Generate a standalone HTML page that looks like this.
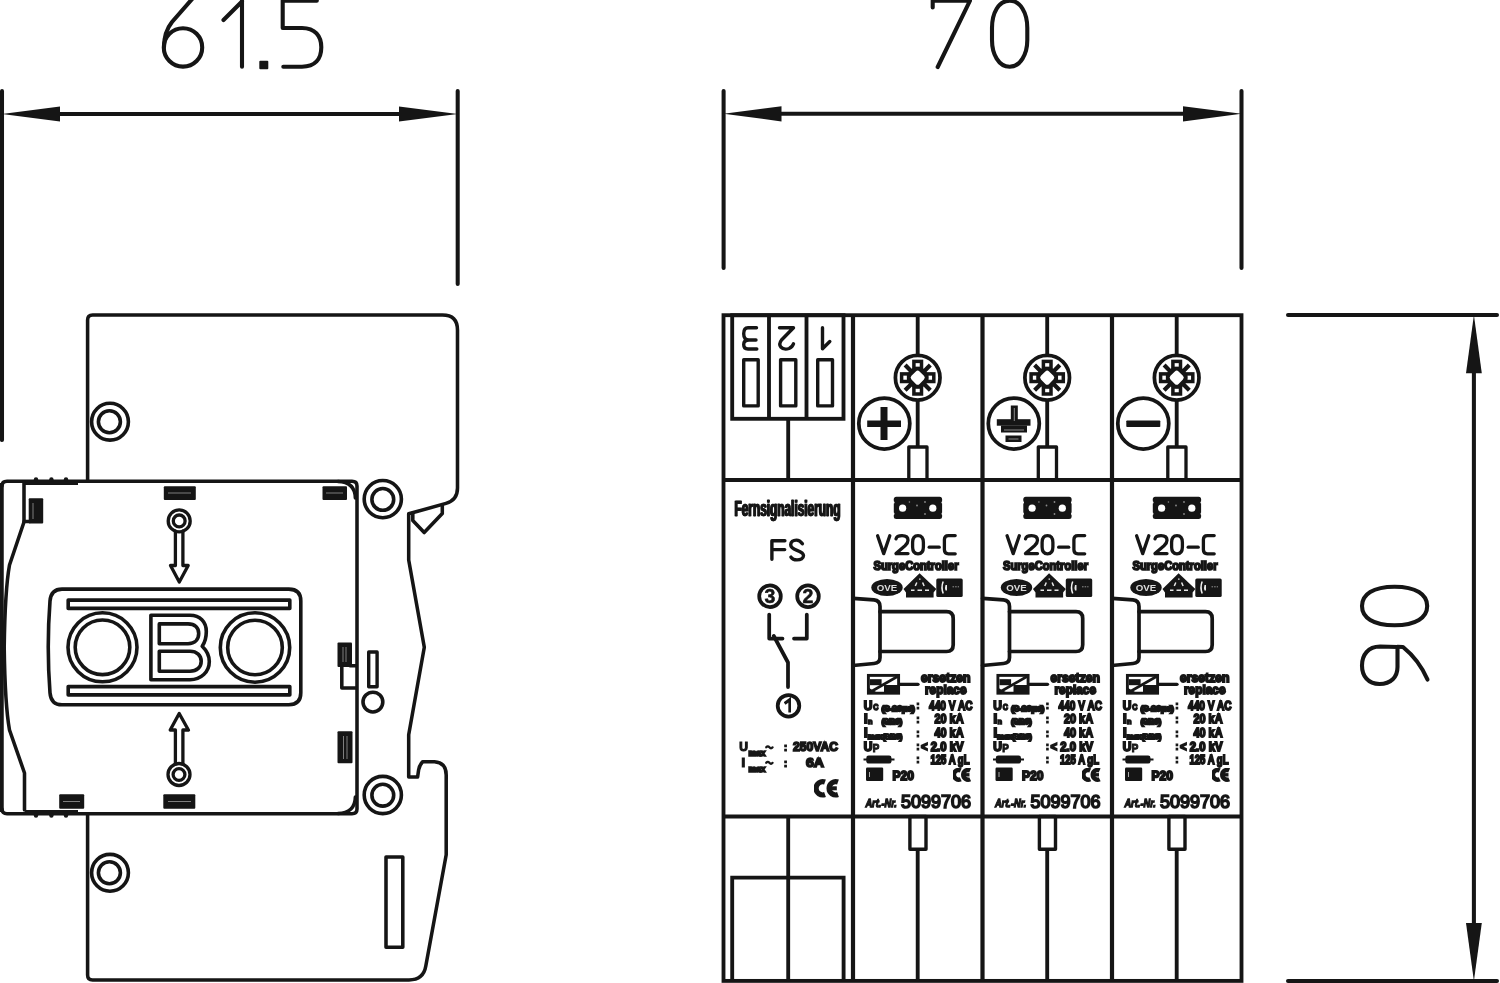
<!DOCTYPE html>
<html>
<head>
<meta charset="utf-8">
<title>V20-C dimension drawing</title>
<style>
html,body{margin:0;padding:0;background:#fff;}
body{width:1500px;height:983px;overflow:hidden;font-family:"Liberation Sans",sans-serif;}
svg{display:block;position:absolute;left:0;top:0;}
.l{fill:none;stroke:#151515;stroke-width:3.55;stroke-linecap:round;stroke-linejoin:round;}
.lb{fill:none;stroke:#151515;stroke-width:3.55;stroke-linecap:butt;stroke-linejoin:miter;}
.t{fill:none;stroke:#151515;stroke-width:3.4;stroke-linecap:round;stroke-linejoin:round;}
.d{fill:none;stroke:#151515;stroke-width:4.1;stroke-linecap:round;stroke-linejoin:round;}
#dims .l,#dims .lb{stroke-width:4.05;}
#frontview .lb{stroke-width:3.85;}
#frontview .l{stroke-width:3.75;}
.k{fill:#151515;stroke:none;}
.w{fill:#fff;stroke:#151515;stroke-width:3.3;stroke-linejoin:round;}
text{font-family:"Liberation Sans",sans-serif;fill:#151515;}
.b{font-weight:bold;stroke:#151515;stroke-width:0.5;}
</style>
</head>
<body>
<svg width="1500" height="983" viewBox="0 0 1500 983">
<defs><filter id="bl" x="-5%" y="-20%" width="110%" height="140%"><feGaussianBlur stdDeviation="0.35"/></filter><filter id="bl2" x="-5%" y="-20%" width="110%" height="140%"><feGaussianBlur stdDeviation="0.5"/></filter></defs>
<rect x="0" y="0" width="1500" height="983" fill="#ffffff"/>

<!-- ================= DIMENSIONS ================= -->
<g id="dims">
  <!-- 61.5 -->
  <path class="l" d="M2,91 L2,440"/>
  <path class="l" d="M457.7,91 L457.7,284"/>
  <path class="lb" d="M30,114 L430,114"/>
  <path class="k" d="M2,114 L60,106.5 L60,121.5 Z"/>
  <path class="k" d="M457.7,114 L399,106.5 L399,121.5 Z"/>
  <!-- 70 -->
  <path class="l" d="M723.6,91 L723.6,268"/>
  <path class="l" d="M1241.5,91 L1241.5,268"/>
  <path class="lb" d="M750,113.8 L1215,113.8"/>
  <path class="k" d="M723.6,113.8 L781.5,106.2 L781.5,121.4 Z"/>
  <path class="k" d="M1241.5,113.8 L1183,106.2 L1183,121.4 Z"/>
  <!-- 90 -->
  <path class="l" d="M1288,315 L1497,315"/>
  <path class="l" d="M1288,980.9 L1497,980.9"/>
  <path class="lb" d="M1473.9,340 L1473.9,955"/>
  <path class="k" d="M1473.9,315 L1466,373.3 L1481.8,373.3 Z"/>
  <path class="k" d="M1473.9,980.9 L1466,923 L1481.8,923 Z"/>

  <!-- digits 61.5 -->
  <g class="d">
    <circle cx="183" cy="47.4" r="19.2"/>
    <path d="M193,-2 L172,22 Q164,32 164,47"/>
    <path d="M223.5,20 L242,1.5 M242,-2 L242,66.7"/>
    <path d="M316.8,0.7 L282.7,0.7 L282.7,28 L302,28 C315,28 321.3,36 321.3,47.3 C321.3,59 315,66.7 302,66.7 L283.3,66.7"/>
  </g>
  <rect class="k" x="259.3" y="60.7" width="9" height="8.5" rx="1"/>
  <!-- digits 70 -->
  <g class="d">
    <path d="M932.7,7.5 L932.7,0.7 L970,0.7 L937.7,67"/>
    <path d="M1009.7,0.7 C1020.5,0.7 1027.3,13 1027.3,28 L1027.3,40 C1027.3,54 1020.5,66.7 1009.7,66.7 C998.5,66.7 992,54 992,40 L992,28 C992,13 998.5,0.7 1009.7,0.7 Z"/>
  </g>
  <!-- digits 90 (rotated) -->
  <g class="d">
    <path d="M1394.6,586.7 C1416,586.7 1427.2,594.5 1427.2,606 C1427.2,617.5 1416,625.2 1394.6,625.2 C1373,625.2 1362,617.5 1362,606 C1362,594.5 1373,586.7 1394.6,586.7 Z"/>
    <path d="M1397.5,647 L1380,646.5 C1368,646.5 1362,655 1362,665.5 C1362,676 1368,684 1379.5,684 C1391,684 1397.5,677 1397.5,667 Z"/>
    <path d="M1397.5,646.8 L1403,647 Q1419,660 1427.5,679.5"/>
  </g>
</g>

<!-- ================= LEFT VIEW ================= -->
<g id="leftview">
  <!-- main body outline -->
  <path class="l" d="M87.6,481 L87.6,320 Q87.6,314.9 92.6,314.9 L442.5,314.9 Q457.5,314.9 457.5,330 L457.5,488 Q457.5,500 446,503.4 L408.7,513.8 L408.7,560 L424.3,647.2 L408.7,734.8 L408.7,777 L417.6,777 L418.6,770 Q419.5,765 422.6,761.7 L434.5,761.7 Q446.2,762.5 446.2,775 L446.2,854.8 L425.8,966 Q423.5,979.9 409,979.9 L92.6,979.9 Q87.6,979.9 87.6,974.9 L87.6,814"/>
  <!-- latch -->
  <path class="l" d="M442.3,505 L442.3,513.5 L424.2,532.5 L412.8,520.5 L412.8,513"/>
  <!-- screws -->
  <g class="l" style="stroke-width:3.6">
    <circle cx="110" cy="421.7" r="18.4"/><circle cx="109.4" cy="421.8" r="11"/>
    <circle cx="382.8" cy="499.1" r="18.6"/><circle cx="382.8" cy="499.4" r="10.9"/>
    <circle cx="382.8" cy="795" r="18.6"/><circle cx="382.8" cy="795.2" r="10.9"/>
    <circle cx="110" cy="872.8" r="18.4"/><circle cx="109.4" cy="872.7" r="11"/>
    <circle cx="372.9" cy="702.1" r="9.9"/>
  </g>
  <rect class="t" x="368.7" y="652" width="8.4" height="34.8"/>
  <rect class="l" x="386" y="857" width="16.8" height="90.3"/>

  <!-- front panel -->
  <path class="l" d="M2,486 Q2,481.3 7,481.3 L352,481.3 Q357,481.3 357,486 L357,809 Q357,813.7 352,813.7 L7,813.7 Q2,813.7 2,809"/>
  <path class="lb" d="M1.5,483 L1.5,812" style="stroke-width:4.5"/>
  <path class="t" d="M338,481.5 Q355,482 355.3,498"/>
  <path class="t" d="M338,813.5 Q355,813 355.3,797"/>
  <!-- bumpy line -->
  <path class="lb" d="M25,483 L78,483" style="stroke-width:4"/>
  <circle class="k" cx="36" cy="479.5" r="2.2"/><circle class="k" cx="51.4" cy="479.5" r="2.2"/><circle class="k" cx="66" cy="479.5" r="2.2"/>
  <path class="lb" d="M25,812 L78,812" style="stroke-width:4"/>
  <circle class="k" cx="36" cy="815.5" r="2.2"/><circle class="k" cx="51.4" cy="815.5" r="2.2"/><circle class="k" cx="66" cy="815.5" r="2.2"/>
  <!-- inner left contour -->
  <path class="l" d="M24,482 L24,522 L9.5,565 Q5,590 4.2,647.5 Q5,705 9.5,730 L24.5,773 L24.5,810"/>
  <path class="t" d="M24,521.5 L30,521.5"/>

  <!-- black clips -->
  <g class="k">
    <rect x="28.7" y="498.3" width="14.5" height="25.2" rx="1"/>
    <rect x="163.8" y="486.3" width="32" height="13.6" rx="1"/>
    <rect x="322.5" y="486.3" width="24.5" height="13.6" rx="1"/>
    <rect x="337.5" y="642.5" width="14.5" height="24.5" rx="1"/>
    <rect x="337.5" y="731.3" width="15" height="32" rx="1"/>
    <rect x="59.2" y="794.2" width="25" height="14.5" rx="1"/>
    <rect x="163.3" y="794.2" width="32" height="14.5" rx="1"/>
  </g>
  <g fill="none" stroke="#9a9a9a" stroke-width="0.8">
    <path d="M33,503 L33,519"/>
    <path d="M168,493 L191,493"/>
    <path d="M326,493 L343,493"/>
    <path d="M343,647 L343,662 M346,647 L346,662"/>
    <path d="M343.5,736 L343.5,759 M347,736 L347,759"/>
    <path d="M63,801.5 L80,801.5"/>
    <path d="M168,801.5 L191,801.5"/>
  </g>
  <path class="l" d="M341.8,667 L341.8,688 L356,688 M350,665.8 L356,665.8"/>

  <!-- arrows -->
  <g class="t" style="stroke-width:3.3">
    <path d="M175.4,531 L175.4,565.5 L170.5,565.5 L179.3,582 L188.2,565.5 L182.9,565.5 L182.9,531"/>
    <circle cx="179.2" cy="520.9" r="11"/><circle cx="179.2" cy="520.9" r="5.9"/>
    <path d="M175.4,764 L175.4,730 L170.2,730 L179.2,713.5 L188.4,730 L182.9,730 L182.9,764"/>
    <circle cx="179" cy="774.5" r="11"/><circle cx="179" cy="774.5" r="5.9"/>
  </g>

  <!-- OBO logo -->
  <g class="t" style="stroke-width:3.6">
    <path d="M62,589.1 L288.8,589.1 Q300.8,589.1 300.8,601 L300.8,692.8 Q300.8,704.8 288.8,704.8 L62,704.8 Q51,704.8 50,692.8 Q46.5,647 50,601 Q51,589.1 62,589.1 Z"/>
    <rect x="68.2" y="600.1" width="221.6" height="8.3"/>
    <rect x="68.2" y="686.6" width="221.6" height="8.3"/>
    <circle cx="102.5" cy="647.3" r="34.5"/><circle cx="102.5" cy="647.3" r="27.3"/>
    <circle cx="255" cy="647.5" r="34.7"/><circle cx="255" cy="647.5" r="27.3"/>
    <path d="M150.9,615.3 L190,615.3 C200,615.3 206.3,622 206.3,631.5 C206.3,638 204.5,643 202.2,646.3 C206,650 209.3,655 209.3,661.5 C209.3,672 201,679.7 190,679.7 L150.9,679.7 Z"/>
    <path d="M159.3,623.9 L188,623.9 C195,623.9 198.7,628 198.7,633.5 C198.7,639.5 195,643.7 188,643.7 L159.3,643.7 Z"/>
    <path d="M159.3,651.2 L190,651.2 C197,651.2 201.2,655.5 201.2,661.2 C201.2,667 197,671.2 190,671.2 L159.3,671.2 Z"/>
  </g>
</g>

<!-- ================= FRONT VIEW ================= -->
<g id="frontview">
  <!-- outer frame -->
  <rect class="lb" x="723.5" y="315.2" width="518" height="665.7"/>
  <path class="lb" d="M723.6,480 L1241.5,480 M723.6,816.5 L1241.5,816.5"/>
  <path class="lb" style="stroke-width:4.2" d="M853,315 L853,981 M982.5,315 L982.5,981 M1112,315 L1112,981"/>

  <!-- FS module : terminal block -->
  <rect class="lb" x="732.2" y="315.2" width="111.3" height="103.6"/>
  <path class="lb" d="M769,315 L769,418.8 M806.5,315 L806.5,418.8 M788.2,418.8 L788.2,480"/>
  <g class="t">
    <rect x="743.7" y="359.8" width="14.5" height="46.1"/>
    <rect x="780.6" y="359.8" width="15.2" height="46.1"/>
    <rect x="817.7" y="359.8" width="14.8" height="46.1"/>
  </g>
  <g class="l" style="stroke-width:3.4">
    <path d="M756.5,327.7 L748,327.7 Q743.7,327.7 743.7,333.8 Q743.7,340 749,340 L756,340 M749,340 Q743.7,340 743.7,344.5 Q743.7,349 748,349 L756.8,349"/>
    <path d="M779.5,327.7 L793.5,327.7 L781.5,340 Q778.5,344 780.8,347 Q784,350.3 789,348.5 Q792.5,347 793.5,343.8"/>
    <path d="M822.5,327.7 L822.5,348.8 L829.8,341.5"/>
  </g>
  <!-- FS labels -->
  <g filter="url(#bl)"><text class="b" x="734.0" y="516" font-size="22" textLength="106" lengthAdjust="spacingAndGlyphs">Fernsignalisierung</text><text class="b" x="734.5" y="516" font-size="22" textLength="106" lengthAdjust="spacingAndGlyphs">Fernsignalisierung</text><text class="b" x="735.0" y="516" font-size="22" textLength="106" lengthAdjust="spacingAndGlyphs">Fernsignalisierung</text></g>
  <g class="l" style="stroke-width:3.4">
    <path d="M771.9,559.3 L771.9,540.7 L784.9,540.7 M771.9,549.6 L784.7,549.6"/>
    <path d="M802.4,543.8 C800.6,541.2 798.7,540.1 796.4,540.1 C793,540.1 790.7,542 790.7,544.8 C790.7,547.8 793,548.9 797,550.3 C801.5,551.9 803.5,553.2 803.5,555.6 C803.5,558.3 800.8,559.9 797,559.9 C794,559.9 792,558.9 790.9,557.1"/>
  </g>
  <!-- switch symbol -->
  <g class="l">
    <circle cx="770" cy="596.2" r="10.8"/>
    <circle cx="808" cy="596.2" r="10.8"/>
    <circle cx="788.5" cy="705.8" r="10.8"/>
    <path d="M769.2,614.5 L769.2,638.5 L782.5,638.5"/>
    <path d="M806.8,614.5 L806.8,638.5 L794,638.5"/>
    <path d="M773.8,636 L788,662.5 L788,687"/>
  </g>
  <text filter="url(#bl)" font-weight="bold" x="770" y="603.3" font-size="19.5" text-anchor="middle" style="stroke:#151515;stroke-width:0.5">3</text>
  <text filter="url(#bl)" font-weight="bold" x="808" y="603.3" font-size="19.5" text-anchor="middle" style="stroke:#151515;stroke-width:0.5">2</text>
  <path filter="url(#bl)" d="M784.6,703.6 L789.9,699.6 L789.9,712.6" fill="none" stroke="#151515" stroke-width="3.1" stroke-linejoin="miter" stroke-linecap="butt"/>
  <!-- Umax / Imax -->
  <g class="b" filter="url(#bl2)" style="stroke-width:1.7">
    <text x="739.3" y="751" font-size="13" textLength="8.7" lengthAdjust="spacingAndGlyphs" style="stroke-width:1.2">U</text>
    <text x="748.5" y="756" font-size="8.5" textLength="17" lengthAdjust="spacingAndGlyphs">max</text>
    <path d="M766.2,747.3 q1.6,-2 3.2,0 t3.2,0" fill="none" stroke="#151515" stroke-width="2.2" stroke-linecap="round"/>
    <text x="783.7" y="750.5" font-size="11" style="stroke-width:1.2">:</text>
    <text x="793" y="751" font-size="13" textLength="45" lengthAdjust="spacingAndGlyphs">250VAC</text>
    <text x="741.5" y="767" font-size="13" style="stroke-width:1.2">I</text>
    <text x="748.5" y="771.5" font-size="8.5" textLength="17" lengthAdjust="spacingAndGlyphs">max</text>
    <path d="M766.2,762.8 q1.6,-2 3.2,0 t3.2,0" fill="none" stroke="#151515" stroke-width="2.2" stroke-linecap="round"/>
    <text x="783.7" y="766.5" font-size="11" style="stroke-width:1.2">:</text>
    <text x="806" y="767" font-size="13" textLength="18" lengthAdjust="spacingAndGlyphs">6A</text>
  </g>
  <!-- CE mark -->
  <g class="l" filter="url(#bl)" style="stroke-width:5.2;stroke-linecap:butt">
    <path d="M825.0,782.05 A6.65,6.65 0 1 0 825.0,794.55"/>
    <path d="M838.0,782.05 A6.65,6.65 0 1 0 838.0,794.55"/><path style="stroke-width:4" d="M830.5,788.3 L836.8,788.3"/>
  </g>
  <!-- FS bottom -->
  <path class="lb" d="M788.2,816.5 L788.2,981"/>
  <path class="lb" d="M732.2,981 L732.2,877.6 L843.6,877.6 L843.6,981"/>

  <!-- ===== V20-C module (defined once) ===== -->
  <g id="mod">
    <path class="lb" d="M917.7,315 L917.7,354 M917.7,401 L917.7,446"/>
    <circle class="l" cx="917.7" cy="377.7" r="22.3"/>
    <!-- screw star -->
    <g class="lb" style="stroke-width:3.5">
      <path style="stroke-width:4.2" d="M922,373.4 L930.3,365.1 M913.4,373.4 L905.1,365.1 M922,382 L930.3,390.3 M913.4,382 L905.1,390.3"/>
      <rect x="913.9" y="361.4" width="7.6" height="7"/>
      <rect x="913.9" y="387" width="7.6" height="7"/>
      <rect x="926.8" y="373.9" width="7" height="7.6"/>
      <rect x="901.6" y="373.9" width="7" height="7.6"/>
    </g>
    <circle class="k" cx="917.7" cy="377.7" r="10.6"/>
    <rect x="-5.7" y="-5.7" width="11.4" height="11.4" rx="2.6" transform="translate(917.7,377.7) rotate(45)" fill="#fff"/>
    <circle class="l" cx="884.3" cy="423.5" r="25.5"/>
    <rect class="t" style="stroke-width:3.3" x="908.8" y="447" width="18.2" height="33"/>
    <!-- mini OBO logo -->
    <rect class="k" x="893.8" y="496.7" width="48.3" height="22.3" rx="2.5"/>
    <circle cx="902.6" cy="508.2" r="3.6" fill="#fff"/><circle cx="932.8" cy="508.2" r="3.6" fill="#fff"/>
    <g fill="#fff"><circle cx="893.3" cy="502.4" r="1.2"/><circle cx="942.7" cy="502.4" r="1.2"/><circle cx="893.3" cy="513.8" r="1.2"/><circle cx="942.7" cy="513.8" r="1.2"/></g>
    <g fill="#8a8a8a"><circle cx="909.4" cy="502" r="0.8"/><circle cx="925" cy="502" r="0.9"/><circle cx="917" cy="505.5" r="0.9"/><circle cx="925" cy="514" r="0.9"/></g>
    <path d="M884,408.5 L884,438.5 M869,423.7 L899,423.7" stroke="#555" stroke-width="0.5" fill="none" opacity="0"/>
    <!-- V20-C -->
    <g class="l" style="stroke-width:3.3">
      <path d="M877.6,535.8 L883.7,553.6 L889.8,535.8"/>
      <path d="M896,538.8 Q896.8,535.6 902,535.6 Q908,535.6 908,540.2 Q908,543 905,545.8 L896,553.6 L908,553.6"/>
      <path d="M918,535.6 C921.6,535.6 923.4,538.5 923.4,542.5 L923.4,547 C923.4,551 921.6,553.8 918,553.8 C914.4,553.8 912.6,551 912.6,547 L912.6,542.5 C912.6,538.5 914.4,535.6 918,535.6 Z"/>
      <path d="M929.2,547.2 L939.2,547.2"/>
      <path d="M955.2,535.6 L948.4,535.6 Q944.4,535.6 944.4,539.6 L944.4,549.8 Q944.4,553.8 948.4,553.8 L955.2,553.8"/>
    </g>
    <text class="b" filter="url(#bl2)" style="stroke-width:1.7" x="873.5" y="570.3" font-size="12.2" textLength="85" lengthAdjust="spacingAndGlyphs">SurgeController</text>
    <!-- symbols row -->
    <g filter="url(#bl)">
    <ellipse class="k" cx="887" cy="587.5" rx="15.7" ry="8.6"/>
    <text x="887" y="590.6" font-size="8.6" font-weight="bold" text-anchor="middle" textLength="20.5" lengthAdjust="spacingAndGlyphs" style="fill:#fff;opacity:0.85">OVE</text>
    <path class="k" d="M919.6,573.3 L936.3,589 L933.6,592.5 L933.6,597.4 L906,597.4 L906,592.5 L903.5,589 Z"/>
    <path d="M916.8,582.5 L915.3,586 M922.6,582.5 L924.1,586 M911,590.3 L914.5,590.3 M917.5,590.3 L922,590.3 M925,590.3 L929,590.3 M919.8,578.6 L919.8,579.8" stroke="#fff" stroke-width="1.5" fill="none" opacity="0.9"/>
    <rect class="k" x="936.3" y="578.4" width="26.4" height="18.7" rx="1.5"/>
    <path d="M943.2,581.5 Q940.8,587.5 943.2,593.5" stroke="#fff" stroke-width="1.5" fill="none" opacity="0.95"/><path d="M945.5,585 Q944.5,587.5 945.5,590.5 L947,590.5 L947,585 Z" fill="#fff" opacity="0.9"/>
    <path d="M952.5,586.8 L959,586.8" stroke="#fff" stroke-width="0.9" stroke-dasharray="1.6 1" fill="none" opacity="0.6"/>
    </g>
    <!-- handle -->
    <path class="l" style="stroke-width:3.7" d="M853,598.3 L874,599.8 Q880,600.3 880,606.5 L880,657.5 Q880,663 874,663.5 L853,665.5"/>
    <path class="l" style="stroke-width:3.7" d="M880,611.7 L946.5,611.7 Q953.2,611.7 953.2,618.5 L953.2,644.7 Q953.2,651.5 946.5,651.5 L880,651.5"/>
    <!-- replace icon -->
    <g filter="url(#bl)">
    <rect x="868.4" y="675.4" width="30.2" height="17.8" fill="#fff" stroke="#151515" stroke-width="2.9"/>
    <path d="M869.5,692.5 L897.5,676.5" stroke="#151515" stroke-width="2.6" fill="none"/>
    <rect class="k" x="870" y="679.2" width="11.6" height="6"/>
    <rect class="k" x="884" y="685" width="14" height="7.5"/>
    <path class="k" d="M869,692.5 L869,688 L877,692.5 Z"/>
    <path class="lb" style="stroke-width:3.3;stroke-linecap:round" d="M900,684.3 L918,684.3"/>
    </g>
    <g class="b" filter="url(#bl2)" style="stroke-width:1.8">
      <text x="921" y="681.9" font-size="12.6" textLength="49.5" lengthAdjust="spacingAndGlyphs">ersetzen</text>
      <text x="925" y="693.7" font-size="12.4" textLength="41.5" lengthAdjust="spacingAndGlyphs">replace</text>
      <!-- rows -->
      <text x="863.8" y="710" font-size="13" textLength="8.6" lengthAdjust="spacingAndGlyphs" style="stroke-width:1.8">U</text>
      <text x="873.2" y="710" font-size="8.6" textLength="5.2" lengthAdjust="spacingAndGlyphs" style="stroke-width:1.6">C</text>
      <text x="881.8" y="710.6" font-size="8" textLength="32.8" lengthAdjust="spacingAndGlyphs" style="stroke-width:2.3">(8-20µs)</text>
      <text x="916.2" y="709.3" font-size="10" style="stroke-width:1.2">:</text>
      <text x="929" y="710" font-size="13" textLength="43.5" lengthAdjust="spacingAndGlyphs">440 V AC</text>

      <text x="864" y="723" font-size="13" style="stroke-width:1.8">I</text>
      <text x="868" y="724.3" font-size="8" textLength="4.5" lengthAdjust="spacingAndGlyphs" style="stroke-width:1.5">n</text>
      <text x="881.8" y="723.6" font-size="8" textLength="20.3" lengthAdjust="spacingAndGlyphs" style="stroke-width:2.3">(8/20)</text>
      <text x="916.2" y="722.8" font-size="10" style="stroke-width:1.2">:</text>
      <text x="934.5" y="723" font-size="13" textLength="29" lengthAdjust="spacingAndGlyphs">20 kA</text>

      <text x="864" y="737" font-size="13" style="stroke-width:1.8">I</text>
      <text x="867.8" y="739" font-size="8" textLength="34.5" lengthAdjust="spacingAndGlyphs" style="stroke-width:2.2">max(8/20)</text>
      <text x="916.2" y="736.8" font-size="10" style="stroke-width:1.2">:</text>
      <text x="934.5" y="737" font-size="13" textLength="29" lengthAdjust="spacingAndGlyphs">40 kA</text>

      <text x="863.8" y="750.5" font-size="12.5" textLength="8.6" lengthAdjust="spacingAndGlyphs" style="stroke-width:1.8">U</text>
      <text x="872.8" y="752" font-size="10" textLength="6.5" lengthAdjust="spacingAndGlyphs" style="stroke-width:1">P</text>
      <text x="916.2" y="749.8" font-size="10" style="stroke-width:1.2">:</text>
      <text x="921" y="750.5" font-size="12.5" textLength="42.5" lengthAdjust="spacingAndGlyphs">&lt; 2.0 kV</text>

      <text x="916.2" y="763.3" font-size="10" style="stroke-width:1.2">:</text>
      <text x="930.5" y="763.5" font-size="12.5" textLength="39" lengthAdjust="spacingAndGlyphs">125 A gL</text>
      <text x="892.5" y="779.7" font-size="12.5" textLength="21.5" lengthAdjust="spacingAndGlyphs">P20</text>
    </g>
    <!-- fuse symbol -->
    <path class="lb" style="stroke-width:2" d="M863.5,759.5 L894.5,759.5"/>
    <rect class="k" x="866.3" y="755.6" width="25.2" height="8" rx="2.4"/>
    <!-- IP box -->
    <rect class="k" x="866" y="767.6" width="17.2" height="13.3" rx="1.2"/>
    <path d="M869.5,772 L869.5,777" stroke="#cfcfcf" stroke-width="0.8"/>
    <!-- CE small -->
    <g class="l" filter="url(#bl)" style="stroke-width:4.5;stroke-linecap:butt">
      <path d="M960.75,770.4 A4.85,4.85 0 1 0 960.75,779.2"/>
      <path d="M970.15,770.4 A4.85,4.85 0 1 0 970.15,779.2"/><path style="stroke-width:3.4" d="M965,774.8 L969.5,774.8"/>
    </g>
    <!-- Art.-Nr. -->
    <text x="865.4" y="807.2" font-size="11.6" font-weight="bold" font-style="italic" textLength="31.5" lengthAdjust="spacingAndGlyphs" filter="url(#bl2)" style="stroke:#151515;stroke-width:1.3">Art.-Nr.</text>
    <text x="901.1" y="807.5" font-size="18.3" textLength="70" lengthAdjust="spacingAndGlyphs" filter="url(#bl)" style="stroke:#151515;stroke-width:1.7">5099706</text>
    <!-- bottom -->
    <rect class="t" x="909.9" y="816.5" width="16.1" height="32.8"/>
    <path class="lb" d="M917.7,849.3 L917.7,981"/>
  </g>
  <use href="#mod" x="129.5" y="0"/>
  <use href="#mod" x="259" y="0"/>

  <!-- plus -->
  <path class="k" d="M867.2,420.5 h33.8 v6.5 h-33.8 Z M880.5,407 h7 v33 h-7 Z"/>
  <!-- earth -->
  <g class="k">
    <rect x="1010.8" y="405.5" width="7" height="15"/>
    <rect x="996.8" y="419.2" width="33.7" height="6.5"/>
    <rect x="1001" y="425.5" width="26" height="7"/>
    <rect x="1005.5" y="435.5" width="16" height="6.5"/>
  </g>
  <g fill="none" stroke="#bdbdbd" stroke-width="0.7">
    <path d="M1014.3,408 L1014.3,421 M1004,430 L1024,430 M1008.5,439 L1018.5,439"/>
  </g>
  <!-- minus -->
  <rect class="k" x="1126.3" y="420.5" width="34" height="6.5" rx="0.8"/>

</g>
</svg>
</body>
</html>
